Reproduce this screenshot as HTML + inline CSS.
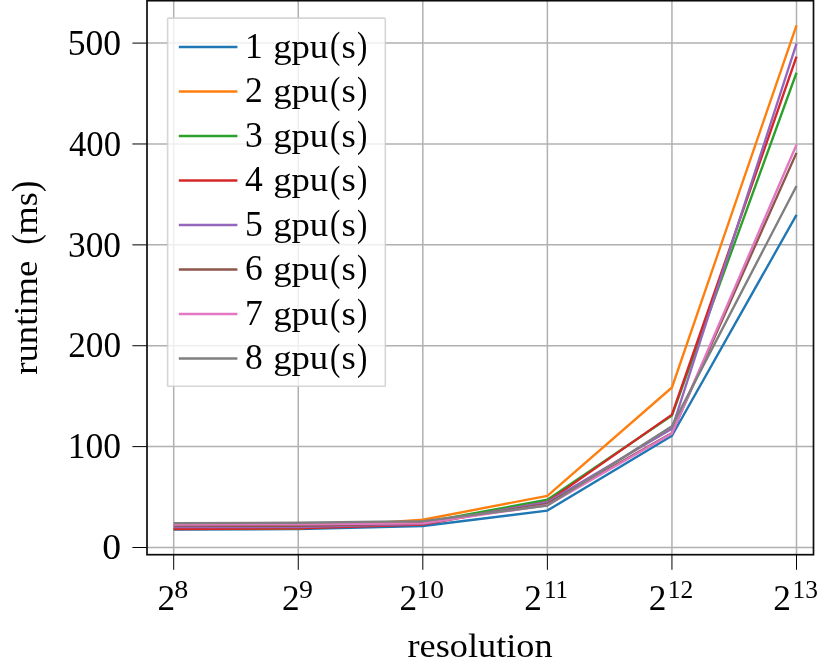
<!DOCTYPE html>
<html><head><meta charset="utf-8"><title>runtime vs resolution</title>
<style>html,body{margin:0;padding:0;background:#fff;}svg{display:block;}text{font-family:"Liberation Serif",serif;fill:#000;}.t{opacity:0.999;}</style>
</head><body>
<svg width="831" height="668" viewBox="0 0 831 668">
<rect x="0" y="0" width="831" height="668" fill="#ffffff"/>
<g stroke="#b0b0b0" stroke-width="1.5" fill="none">
<line x1="173.70" y1="0.7" x2="173.70" y2="554.7"/>
<line x1="298.26" y1="0.7" x2="298.26" y2="554.7"/>
<line x1="422.82" y1="0.7" x2="422.82" y2="554.7"/>
<line x1="547.38" y1="0.7" x2="547.38" y2="554.7"/>
<line x1="671.94" y1="0.7" x2="671.94" y2="554.7"/>
<line x1="796.50" y1="0.7" x2="796.50" y2="554.7"/>
<line x1="147.0" y1="547.50" x2="813.5" y2="547.50"/>
<line x1="147.0" y1="446.62" x2="813.5" y2="446.62"/>
<line x1="147.0" y1="345.74" x2="813.5" y2="345.74"/>
<line x1="147.0" y1="244.86" x2="813.5" y2="244.86"/>
<line x1="147.0" y1="143.98" x2="813.5" y2="143.98"/>
<line x1="147.0" y1="43.10" x2="813.5" y2="43.10"/>
</g>
<g stroke="#000" stroke-width="1.0" fill="none">
<line x1="173.70" y1="554.7" x2="173.70" y2="569.80"/>
<line x1="298.26" y1="554.7" x2="298.26" y2="569.80"/>
<line x1="422.82" y1="554.7" x2="422.82" y2="569.80"/>
<line x1="547.38" y1="554.7" x2="547.38" y2="569.80"/>
<line x1="671.94" y1="554.7" x2="671.94" y2="569.80"/>
<line x1="796.50" y1="554.7" x2="796.50" y2="569.80"/>
<line x1="132.40" y1="547.50" x2="147.0" y2="547.50"/>
<line x1="132.40" y1="446.62" x2="147.0" y2="446.62"/>
<line x1="132.40" y1="345.74" x2="147.0" y2="345.74"/>
<line x1="132.40" y1="244.86" x2="147.0" y2="244.86"/>
<line x1="132.40" y1="143.98" x2="147.0" y2="143.98"/>
<line x1="132.40" y1="43.10" x2="147.0" y2="43.10"/>
</g>
<clipPath id="c"><rect x="147.0" y="0.7" width="666.5" height="554.0"/></clipPath>
<g fill="none" stroke-width="2.35" stroke-linejoin="round" stroke-linecap="butt" clip-path="url(#c)">
<polyline stroke="#1f77b4" points="173.70,529.64 298.26,529.14 422.82,526.01 547.38,510.58 671.94,435.72 796.50,214.90"/>
<polyline stroke="#ff7f0e" points="173.70,528.84 298.26,528.33 422.82,519.76 547.38,495.85 671.94,387.50 796.50,25.35"/>
<polyline stroke="#2ca02c" points="173.70,528.84 298.26,528.33 422.82,522.58 547.38,499.78 671.94,415.55 796.50,72.76"/>
<polyline stroke="#d62728" points="173.70,529.14 298.26,528.33 422.82,524.70 547.38,501.90 671.94,414.64 796.50,56.72"/>
<polyline stroke="#9467bd" points="173.70,527.02 298.26,527.12 422.82,523.79 547.38,502.20 671.94,428.76 796.50,43.60"/>
<polyline stroke="#8c564b" points="173.70,525.66 298.26,525.91 422.82,523.29 547.38,503.82 671.94,433.00 796.50,152.86"/>
<polyline stroke="#e377c2" points="173.70,524.45 298.26,524.35 422.82,523.39 547.38,505.23 671.94,433.51 796.50,144.69"/>
<polyline stroke="#7f7f7f" points="173.70,523.09 298.26,522.78 422.82,521.17 547.38,505.63 671.94,426.14 796.50,185.95"/>
</g>
<rect x="147.0" y="0.7" width="666.5" height="554.0" fill="none" stroke="#0c0c0c" stroke-width="1.7"/>
<rect x="167.6" y="18.1" width="217.70" height="368.10" rx="0.8" ry="0.8" fill="#fff" fill-opacity="0.8" stroke="#cccccc" stroke-opacity="0.8" stroke-width="1.6"/>
<line x1="178.8" y1="47.00" x2="237.4" y2="47.00" stroke="#1f77b4" stroke-width="2.35"/>
<line x1="178.8" y1="91.50" x2="237.4" y2="91.50" stroke="#ff7f0e" stroke-width="2.35"/>
<line x1="178.8" y1="136.00" x2="237.4" y2="136.00" stroke="#2ca02c" stroke-width="2.35"/>
<line x1="178.8" y1="180.50" x2="237.4" y2="180.50" stroke="#d62728" stroke-width="2.35"/>
<line x1="178.8" y1="225.00" x2="237.4" y2="225.00" stroke="#9467bd" stroke-width="2.35"/>
<line x1="178.8" y1="269.50" x2="237.4" y2="269.50" stroke="#8c564b" stroke-width="2.35"/>
<line x1="178.8" y1="314.00" x2="237.4" y2="314.00" stroke="#e377c2" stroke-width="2.35"/>
<line x1="178.8" y1="358.50" x2="237.4" y2="358.50" stroke="#7f7f7f" stroke-width="2.35"/>
<g class="t">
<text x="245.0" y="57.60" font-size="35.5">1</text>
<text transform="translate(273.14,57.60) scale(1.0805,1)" font-size="34">gpu</text>
<text transform="translate(329.98,58.00) scale(0.8070,1)" font-size="38.5">(</text>
<text transform="translate(341.43,57.60) scale(1.0824,1)" font-size="34">s</text>
<text transform="translate(356.99,58.00) scale(0.8070,1)" font-size="38.5">)</text>
<text x="245.0" y="102.10" font-size="35.5">2</text>
<text transform="translate(273.14,102.10) scale(1.0805,1)" font-size="34">gpu</text>
<text transform="translate(329.98,102.50) scale(0.8070,1)" font-size="38.5">(</text>
<text transform="translate(341.43,102.10) scale(1.0824,1)" font-size="34">s</text>
<text transform="translate(356.99,102.50) scale(0.8070,1)" font-size="38.5">)</text>
<text x="245.0" y="146.60" font-size="35.5">3</text>
<text transform="translate(273.14,146.60) scale(1.0805,1)" font-size="34">gpu</text>
<text transform="translate(329.98,147.00) scale(0.8070,1)" font-size="38.5">(</text>
<text transform="translate(341.43,146.60) scale(1.0824,1)" font-size="34">s</text>
<text transform="translate(356.99,147.00) scale(0.8070,1)" font-size="38.5">)</text>
<text x="245.0" y="191.10" font-size="35.5">4</text>
<text transform="translate(273.14,191.10) scale(1.0805,1)" font-size="34">gpu</text>
<text transform="translate(329.98,191.50) scale(0.8070,1)" font-size="38.5">(</text>
<text transform="translate(341.43,191.10) scale(1.0824,1)" font-size="34">s</text>
<text transform="translate(356.99,191.50) scale(0.8070,1)" font-size="38.5">)</text>
<text x="245.0" y="235.60" font-size="35.5">5</text>
<text transform="translate(273.14,235.60) scale(1.0805,1)" font-size="34">gpu</text>
<text transform="translate(329.98,236.00) scale(0.8070,1)" font-size="38.5">(</text>
<text transform="translate(341.43,235.60) scale(1.0824,1)" font-size="34">s</text>
<text transform="translate(356.99,236.00) scale(0.8070,1)" font-size="38.5">)</text>
<text x="245.0" y="280.10" font-size="35.5">6</text>
<text transform="translate(273.14,280.10) scale(1.0805,1)" font-size="34">gpu</text>
<text transform="translate(329.98,280.50) scale(0.8070,1)" font-size="38.5">(</text>
<text transform="translate(341.43,280.10) scale(1.0824,1)" font-size="34">s</text>
<text transform="translate(356.99,280.50) scale(0.8070,1)" font-size="38.5">)</text>
<text x="245.0" y="324.60" font-size="35.5">7</text>
<text transform="translate(273.14,324.60) scale(1.0805,1)" font-size="34">gpu</text>
<text transform="translate(329.98,325.00) scale(0.8070,1)" font-size="38.5">(</text>
<text transform="translate(341.43,324.60) scale(1.0824,1)" font-size="34">s</text>
<text transform="translate(356.99,325.00) scale(0.8070,1)" font-size="38.5">)</text>
<text x="245.0" y="369.10" font-size="35.5">8</text>
<text transform="translate(273.14,369.10) scale(1.0805,1)" font-size="34">gpu</text>
<text transform="translate(329.98,369.50) scale(0.8070,1)" font-size="38.5">(</text>
<text transform="translate(341.43,369.10) scale(1.0824,1)" font-size="34">s</text>
<text transform="translate(356.99,369.50) scale(0.8070,1)" font-size="38.5">)</text>
<text transform="translate(102.29,559.25) scale(1.0605,1)" font-size="35.5">0</text>
<text transform="translate(67.79,458.37) scale(0.9997,1)" font-size="35.5">100</text>
<text transform="translate(68.20,357.49) scale(0.9919,1)" font-size="35.5">200</text>
<text transform="translate(68.02,256.61) scale(0.9954,1)" font-size="35.5">300</text>
<text transform="translate(69.01,155.73) scale(0.9764,1)" font-size="35.5">400</text>
<text transform="translate(67.65,54.85) scale(1.0025,1)" font-size="35.5">500</text>
<text transform="translate(157.50,609.60) scale(0.9938,1)" font-size="35.5">2</text>
<text transform="translate(174.25,597.90) scale(1.1200,1)" font-size="25">8</text>
<text transform="translate(282.06,609.60) scale(0.9938,1)" font-size="35.5">2</text>
<text transform="translate(299.00,597.90) scale(1.1135,1)" font-size="25">9</text>
<text transform="translate(399.62,609.60) scale(0.9938,1)" font-size="35.5">2</text>
<text transform="translate(416.59,597.90) scale(1.1017,1)" font-size="25">10</text>
<text transform="translate(524.18,609.60) scale(0.9938,1)" font-size="35.5">2</text>
<text transform="translate(544.02,597.90) scale(0.9963,1)" font-size="25">11</text>
<text transform="translate(648.74,609.60) scale(0.9938,1)" font-size="35.5">2</text>
<text transform="translate(667.67,597.90) scale(1.0216,1)" font-size="25">12</text>
<text transform="translate(773.30,609.60) scale(0.9938,1)" font-size="35.5">2</text>
<text transform="translate(792.57,597.90) scale(1.0178,1)" font-size="25">13</text>
<text transform="translate(407.47,656.60) scale(1.0682,1)" font-size="34">resolution</text>
<text transform="translate(37.20,374.73) rotate(-90) scale(1.0793,1)" font-size="34">runtime</text>
<text transform="translate(37.60,244.60) rotate(-90) scale(0.7969,1)" font-size="38.5">(</text>
<text transform="translate(37.20,234.42) rotate(-90) scale(1.0652,1)" font-size="34">ms</text>
<text transform="translate(37.60,192.10) rotate(-90) scale(0.8776,1)" font-size="38.5">)</text>
</g>
</svg></body></html>
